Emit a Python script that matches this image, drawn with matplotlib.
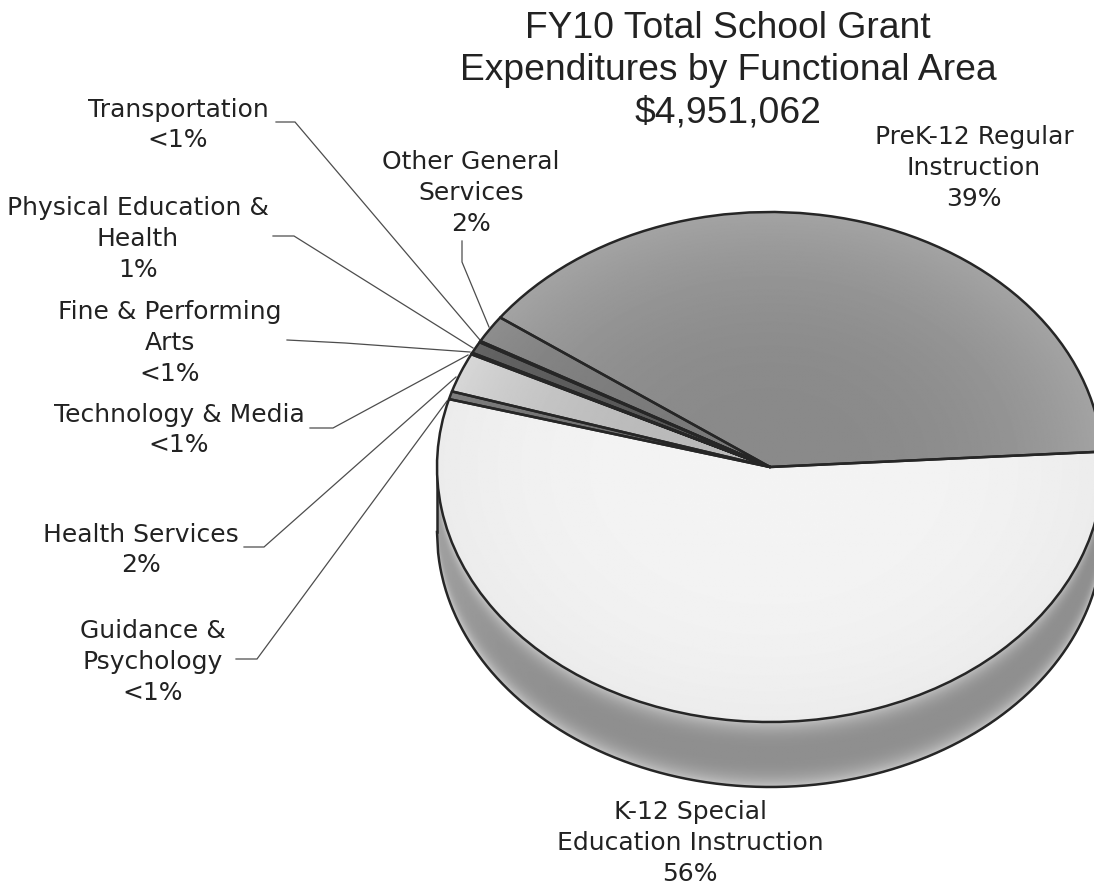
import numpy as np
import matplotlib
matplotlib.use("Agg")
import matplotlib.pyplot as plt

# ---- data ----
areas = ["PreK-12 Regular\nInstruction", "Other General\nServices", "Transportation",
         "Physical Education &\nHealth", "Fine & Performing\nArts", "Technology & Media",
         "Health Services", "Guidance &\nPsychology", "K-12 Special\nEducation Instruction"]
shares = [39.07, 1.75, 0.08, 0.75, 0.05, 0.05, 2.5, 0.5, 55.25]
share_labels = ["39%", "2%", "<1%", "1%", "<1%", "<1%", "2%", "<1%", "56%"]
title_lines = "FY10 Total School Grant\nExpenditures by Functional Area\n$4,951,062"

# ---- style / layout ----
W, H = 1094, 886
CX, CY, RX, RY, DEPTH = 770, 467, 333, 255, 65
base = [0.57, 0.50, 0.45, 0.36, 0.45, 0.45, 0.76, 0.46, 0.945]
rim = [0.10, 0.08, 0.0, 0.05, 0.0, 0.0, 0.12, 0.05, -0.03]
label_pos = [(974, 168), (471, 193), (178, 125), (138, 239), (170, 343),
             (179, 430), (141, 550), (153, 662), (690, 843)]
leaders = {1: [(462, 241), (462, 262), (489, 327)],
           2: [(276, 122), (295, 122), (480, 340)],
           3: [(273, 236), (294, 236), (473, 348)],
           4: [(287, 340), (345, 343), (470, 352)],
           5: [(310, 428), (333, 428), (468, 355)],
           6: [(244, 547), (264, 547), (456, 377)],
           7: [(236, 659), (257, 659), (447, 401)]}
START = 3.46
INK = "#262626"

fig = plt.figure(figsize=(W / 100, H / 100), dpi=100, facecolor="white")
ax = fig.add_axes([0, 0, 1, 1])
xlim = ((0 - CX) / RX, (W - CX) / RX)
ylim = ((CY - H) / RY, CY / RY)
px = lambda x, y: ((x - CX) / RX, (CY - y) / RY)
d = DEPTH / RY

gx = np.linspace(xlim[0], xlim[1], 900)
gy = np.linspace(ylim[1], ylim[0], 800)
X, Y = np.meshgrid(gx, gy)
R = np.clip(np.hypot(X, Y), 0, 1)
ext = (xlim[0], xlim[1], ylim[0], ylim[1])
kw = dict(cmap="gray", vmin=0, vmax=1, extent=ext, aspect="auto", interpolation="bilinear")

# side band
bx = np.linspace(-1, 1, 600)
low = -np.sqrt(1 - bx ** 2)
band = ax.fill_between(bx, low, low - d, color="#8e8e8e", lw=0, zorder=1)
Ytop = -np.sqrt(np.clip(1 - X ** 2, 0, 1))
T = np.clip((Ytop - Y) / d, 0, 1)
side = 0.56 + 0.20 * np.abs(2 * T - 1) ** 3 + 0.07 * np.clip(-X, 0, 1) ** 6
im = ax.imshow(side, zorder=2, **kw)
im.set_clip_path(band.get_paths()[0], transform=ax.transData)
ax.plot(bx, low - d, color=INK, lw=1.8, zorder=3)
ax.plot([-1, -1], [0, -d], color=INK, lw=1.8, zorder=3)

# top face
wedges, _ = ax.pie(shares, startangle=START, counterclock=True, radius=1, center=(0, 0),
                   colors=[str(b) for b in base],
                   wedgeprops=dict(edgecolor=INK, linewidth=1.8, joinstyle="round"),
                   normalize=True)
for w, b, e in zip(wedges, base, rim):
    shade = np.clip(b + e * R ** 3 - e * 0.3, 0, 1)
    i = ax.imshow(shade, zorder=4.2, **kw)
    i.set_clip_path(w)
    w.set_facecolor("none")
    w.set_zorder(5)

ax.set_aspect("auto")
ax.set_xlim(xlim)
ax.set_ylim(ylim)
ax.axis("off")

# leaders
for idx, pts in leaders.items():
    xs, ys = zip(*[px(*p) for p in pts])
    ax.plot(xs, ys, color="#4d4d4d", lw=0.9, zorder=3, solid_joinstyle="miter")

# labels
for name, pct, (x, y) in zip(areas, share_labels, label_pos):
    fig.text(x / W, 1 - y / H, f"{name}\n{pct}", ha="center", va="center", fontsize=18,
             family="DejaVu Sans", color="#222222", linespacing=1.35, multialignment="center")

fig.text(728 / W, 1 - 70.5 / H, title_lines, ha="center", va="center", fontsize=26.8,
         family="Liberation Sans", color="#222222", linespacing=1.27, multialignment="center")

fig.savefig("out.png", dpi=100, facecolor="white")
